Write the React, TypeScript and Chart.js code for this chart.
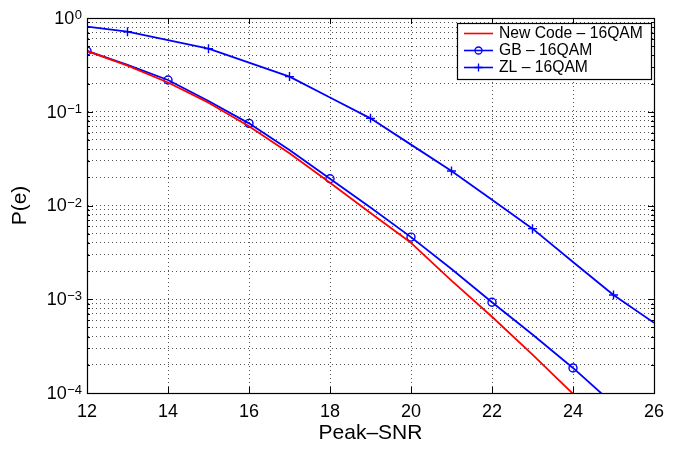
import React, { useEffect, useRef } from "react";
import { Chart, registerables } from "chart.js";

Chart.register(...registerables);

// ---- data ----
const snr = [12, 13, 14, 15, 16, 17, 18, 19, 20, 21, 22, 23, 24, 25, 26];
const newCode = [0.445, 0.31, 0.205, 0.125, 0.07, 0.036, 0.0175, 0.0083, 0.004, 0.00158, 0.00065, 0.000257, 0.000098];
const gb = [0.445, 0.316, 0.218, 0.13, 0.0752, 0.039, 0.0193, 0.0095, 0.0046, 0.0021, 0.00093, 0.00042, 0.000185, 0.000076];
const zl = [0.81, 0.714, 0.58, 0.471, 0.334, 0.237, 0.142, 0.085, 0.0446, 0.0233, 0.0115, 0.00566, 0.0025, 0.00111, 0.00056];
const seriesLabels = ["New Code \u2013 16QAM", "GB \u2013 16QAM", "ZL \u2013 16QAM"];
const xTicks = [12, 14, 16, 18, 20, 22, 24, 26];
const yDecades = [-4, -3, -2, -1, 0];
const yTickBase = "10";
const yTickExponents = ["\u22124", "\u22123", "\u22122", "\u22121", "0"];
const xTitle = "Peak\u2013SNR";
const yTitle = "P(e)";

const FONT = "'Liberation Sans', Arial, Helvetica, sans-serif";

const toPoints = (ys: number[]) => ys.map((y, i) => ({ x: snr[i], y }));

const isMajor = (v: number) => {
  const l = Math.log10(v);
  return Math.abs(l - Math.round(l)) < 1e-6;
};

const frameAndTicks = {
  id: "frameAndTicks",
  afterDatasetsDraw(chart: any) {
    const { ctx, chartArea, scales } = chart;
    const { left, right, top, bottom } = chartArea;
    ctx.save();
    ctx.strokeStyle = "#000";
    ctx.lineWidth = 1;
    ctx.beginPath();
    scales.y.ticks.forEach((t: any) => {
      const py = Math.round(scales.y.getPixelForValue(t.value)) + 0.5;
      const len = isMajor(t.value) ? 6 : 3;
      ctx.moveTo(left, py);
      ctx.lineTo(left + len, py);
      ctx.moveTo(right, py);
      ctx.lineTo(right - len, py);
    });
    scales.x.ticks.forEach((t: any) => {
      const px = Math.round(scales.x.getPixelForValue(t.value)) + 0.5;
      ctx.moveTo(px, bottom);
      ctx.lineTo(px, bottom - 6);
      ctx.moveTo(px, top);
      ctx.lineTo(px, top + 6);
    });
    ctx.stroke();
    ctx.lineWidth = 1.2;
    ctx.strokeRect(Math.round(left) + 0.5, Math.round(top) + 0.5, Math.round(right - left), Math.round(bottom - top));

    // power-of-ten labels on the y axis (base + raised exponent)
    const rightEdge = left - 5;
    yDecades.forEach((d, i) => {
      const py = scales.y.getPixelForValue(Math.pow(10, d));
      const exp = yTickExponents[i];
      ctx.font = `13px ${FONT}`;
      const ew = ctx.measureText(exp).width;
      ctx.fillStyle = "#000";
      ctx.textAlign = "right";
      ctx.textBaseline = "alphabetic";
      ctx.fillText(exp, rightEdge, py + 1);
      ctx.font = `18px ${FONT}`;
      ctx.textBaseline = "middle";
      ctx.fillText(yTickBase, rightEdge - ew - 0.5, py + 1);
    });
    ctx.restore();
  },
};

const boxLegend = {
  id: "boxLegend",
  afterDraw(chart: any) {
    const { ctx, chartArea } = chart;
    const w = 194;
    const h = 56;
    const x0 = Math.round(chartArea.right - 197);
    const y0 = Math.round(chartArea.top + 5);
    ctx.save();
    ctx.fillStyle = "#fff";
    ctx.fillRect(x0, y0, w, h);
    ctx.strokeStyle = "#000";
    ctx.lineWidth = 1.2;
    ctx.strokeRect(x0 + 0.5, y0 + 0.5, w, h);
    chart.data.datasets.forEach((ds: any, i: number) => {
      const y = y0 + 10.5 + i * 17;
      const lx0 = x0 + 7;
      const lx1 = x0 + 36;
      const mx = (lx0 + lx1) / 2;
      ctx.strokeStyle = ds.borderColor;
      ctx.lineWidth = 1.6;
      ctx.beginPath();
      ctx.moveTo(lx0, y);
      ctx.lineTo(lx1, y);
      ctx.stroke();
      const style = Array.isArray(ds.pointStyle) ? ds.pointStyle[0] : ds.pointStyle;
      const hasMarker = Array.isArray(ds.pointRadius) && ds.pointRadius.some((r: number) => r > 0);
      if (hasMarker) {
        ctx.lineWidth = 1.3;
        ctx.beginPath();
        if (style === "circle") {
          ctx.arc(mx, y, 3.5, 0, Math.PI * 2);
        } else {
          ctx.moveTo(mx - 4, y);
          ctx.lineTo(mx + 4, y);
          ctx.moveTo(mx, y - 4);
          ctx.lineTo(mx, y + 4);
        }
        ctx.stroke();
      }
      ctx.fillStyle = "#000";
      ctx.font = `15.7px ${FONT}`;
      ctx.textAlign = "left";
      ctx.textBaseline = "middle";
      ctx.fillText(ds.label, x0 + 42, y + 0.5);
    });
    ctx.restore();
  },
};

export default function App() {
  const canvasRef = useRef<HTMLCanvasElement | null>(null);

  useEffect(() => {
    if (!canvasRef.current) return;
    const gridCommon = {
      color: "rgba(40,40,40,0.8)",
      lineWidth: 1,
      drawTicks: false,
    };
    const chart = new Chart(canvasRef.current, {
      type: "line",
      data: {
        datasets: [
          {
            label: seriesLabels[0],
            data: toPoints(newCode),
            borderColor: "#ff0000",
            backgroundColor: "#ff0000",
            borderWidth: 1.8,
            pointRadius: newCode.map(() => 0),
            pointStyle: "circle",
            fill: false,
            tension: 0,
          },
          {
            label: seriesLabels[1],
            data: toPoints(gb),
            borderColor: "#0000ff",
            backgroundColor: "rgba(0,0,0,0)",
            borderWidth: 1.8,
            pointRadius: gb.map((_, i) => (snr[i] % 2 === 0 ? 4 : 0)),
            pointBorderWidth: 1.4,
            pointStyle: "circle",
            fill: false,
            tension: 0,
          },
          {
            label: seriesLabels[2],
            data: toPoints(zl),
            borderColor: "#0000ff",
            backgroundColor: "#0000ff",
            borderWidth: 1.8,
            pointRadius: zl.map((_, i) => (snr[i] % 2 === 1 ? 4.5 : 0)),
            pointBorderWidth: 1.4,
            pointStyle: "cross",
            fill: false,
            tension: 0,
          },
        ],
      },
      options: {
        animation: false,
        responsive: true,
        maintainAspectRatio: false,
        layout: { padding: { left: 0, right: 29, top: 18, bottom: 0 } },
        plugins: {
          legend: { display: false },
          tooltip: { enabled: false },
        },
        elements: { line: { borderJoinStyle: "round" } },
        scales: {
          x: {
            type: "linear",
            min: 12,
            max: 26,
            afterBuildTicks: (scale: any) => {
              scale.ticks = xTicks.map((v) => ({ value: v }));
            },
            afterFit: (scale: any) => {
              scale.height = 56;
            },
            ticks: {
              autoSkip: false,
              maxRotation: 0,
              padding: 8,
              color: "#000",
              font: { family: FONT, size: 18 },
              callback: (v: any) => String(v),
            },
            grid: gridCommon,
            border: { display: true, color: "#000", width: 1, dash: [1, 3] },
            title: {
              display: true,
              text: xTitle,
              color: "#000",
              font: { family: FONT, size: 21 },
              padding: { top: 0, bottom: 3 },
            },
          },
          y: {
            type: "logarithmic",
            min: 1e-4,
            max: 1,
            afterBuildTicks: (scale: any) => {
              const ticks: any[] = [];
              yDecades.forEach((d) => {
                const mults = d === 0 ? [1] : [1, 2, 3, 4, 5, 6, 7, 8, 9];
                mults.forEach((m) => ticks.push({ value: m * Math.pow(10, d) }));
              });
              scale.ticks = ticks;
            },
            afterFit: (scale: any) => {
              scale.width = 87;
            },
            ticks: {
              autoSkip: false,
              padding: 5,
              color: "#000",
              font: { family: FONT, size: 18 },
              callback: () => "",
            },
            grid: gridCommon,
            border: { display: true, color: "#000", width: 1, dash: [1, 3] },
            title: {
              display: true,
              text: yTitle,
              color: "#000",
              font: { family: FONT, size: 21 },
              padding: { top: 8, bottom: 0 },
            },
          },
        },
      },
      plugins: [frameAndTicks, boxLegend],
    } as any);
    return () => chart.destroy();
  }, []);

  return (
    <div style={{ position: "absolute", left: 0, top: 0, width: 683, height: 449, background: "#fff" }}>
      <canvas ref={canvasRef} />
    </div>
  );
}
